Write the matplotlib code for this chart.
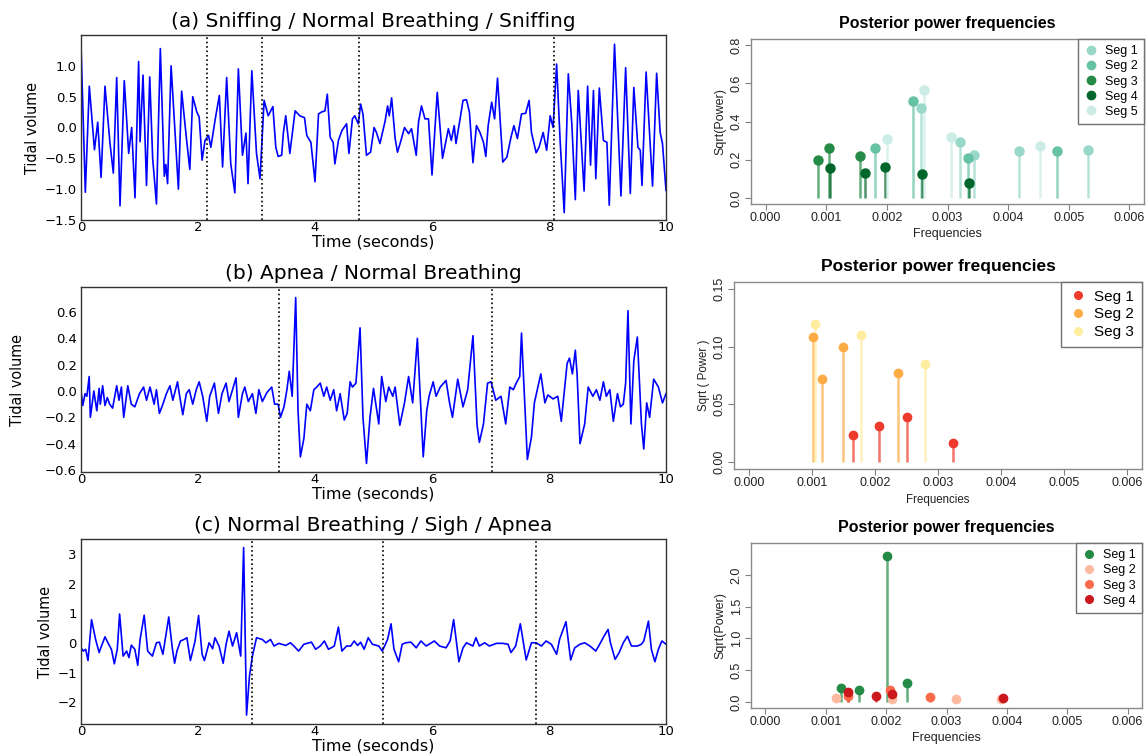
import matplotlib
matplotlib.use("Agg")
import matplotlib.pyplot as plt
from matplotlib.lines import Line2D

# ---------------- time-series data (knots) ----------------
ta = [0, 0.074, 0.142, 0.23, 0.286, 0.343, 0.41, 0.496, 0.553, 0.61, 0.667, 0.74, 0.815, 0.866, 0.923,
      0.985, 1.01, 1.06, 1.12, 1.175, 1.225, 1.29, 1.356, 1.424, 1.45, 1.48, 1.54, 1.665, 1.72, 1.806,
      1.86, 1.91, 1.98, 2.02, 2.07, 2.12, 2.18, 2.22, 2.29, 2.365, 2.42, 2.49, 2.56, 2.63, 2.69, 2.76,
      2.82, 2.855, 2.92, 3.0, 3.06, 3.13, 3.2, 3.28, 3.33, 3.37, 3.43, 3.46, 3.5, 3.57, 3.66, 3.74,
      3.82, 3.86, 3.93, 4.0, 4.06, 4.11, 4.17, 4.21, 4.26, 4.31, 4.34, 4.4, 4.46, 4.54, 4.58, 4.64,
      4.68, 4.74, 4.78, 4.82, 4.88, 4.95, 5.01, 5.05, 5.11, 5.2, 5.24, 5.27, 5.31, 5.37, 5.41, 5.47,
      5.53, 5.6, 5.65, 5.73, 5.77, 5.82, 5.88, 5.94, 6.0, 6.09, 6.18, 6.28, 6.33, 6.38, 6.41, 6.48,
      6.53, 6.59, 6.64, 6.7, 6.76, 6.82, 6.88, 6.92, 6.96, 7.02, 7.07, 7.12, 7.21, 7.28, 7.35, 7.4,
      7.46, 7.53, 7.6, 7.66, 7.7, 7.78, 7.83, 7.9, 7.96, 8.02, 8.07, 8.13, 8.19, 8.26, 8.33, 8.39,
      8.45, 8.5, 8.6, 8.66, 8.71, 8.76, 8.8, 8.86, 8.93, 8.99, 9.03, 9.12, 9.23, 9.31, 9.39, 9.45,
      9.52, 9.56, 9.59, 9.66, 9.77, 9.84, 9.9, 9.94, 10.0]
va = [1.35, -1.05, 0.67, -0.36, 0.086, -0.81, 0.67, -0.26, -0.74, 0.81, -1.27, 0.76, -0.42, 0.0, -1.14,
      1.07, -0.23, 0.85, -0.94, 0.82, -0.5, -1.24, 1.28, -0.79, -0.6, -0.91, 1.0, -1.0, 0.59, -0.21,
      -0.68, 0.5, 0.25, 0.17, -0.53, -0.21, -0.13, -0.32, 0.11, 0.52, -0.64, 0.81, -0.59, -1.06, 0.95, -0.45,
      -0.09, -0.91, 0.92, -0.42, -0.83, 0.44, 0.19, 0.34, -0.32, -0.47, -0.45, -0.08, 0.19, -0.42, 0.27, 0.19,
      0.16, -0.13, -0.24, -0.88, 0.22, 0.25, 0.27, 0.54, -0.16, -0.24, -0.59, -0.21, -0.05, 0.06, -0.42, 0.14,
      0.19, 0.06, 0.38, 0.22, -0.45, -0.4, 0.0, -0.08, -0.26, 0.11, 0.35, 0.19, 0.48, -0.18, -0.4, -0.21,
      0.0, -0.1, -0.02, -0.45, 0.09, 0.35, 0.14, 0.14, -0.77, 0.57, -0.5, -0.02, -0.21, 0.03, -0.26, 0.14,
      0.44, 0.45, 0.25, -0.57, 0.03, -0.08, -0.24, -0.47, 0.03, 0.41, 0.14, 0.8, -0.56, -0.48, -0.16, 0.03,
      -0.18, 0.22, 0.23, 0.44, -0.08, -0.41, -0.32, -0.08, -0.37, 0.19, 0.0, 1.03, -0.21, -1.38, 0.87, 0.06,
      -1.17, 0.6, -1.03, 0.67, -0.61, 0.6, -0.83, 0.64, -0.21, -0.24, -1.26, 1.35, -1.11, 0.97, -1.07, 0.65,
      -0.32, -0.37, -0.94, 0.9, -0.95, 0.88, -0.08, -0.26, -1.02]

tb = [0, 0.03, 0.07, 0.1, 0.14, 0.16, 0.22, 0.27, 0.31, 0.33, 0.37, 0.41, 0.45, 0.49, 0.54, 0.61, 0.65,
      0.69, 0.73, 0.8, 0.86, 0.92, 1.0, 1.07, 1.12, 1.18, 1.25, 1.29, 1.34, 1.4, 1.46, 1.52, 1.57, 1.65,
      1.68, 1.74, 1.8, 1.85, 1.91, 1.97, 2.02, 2.08, 2.15, 2.2, 2.28, 2.35, 2.41, 2.48, 2.53, 2.59, 2.65,
      2.69, 2.76, 2.8, 2.86, 2.93, 2.99, 3.04, 3.1, 3.18, 3.26, 3.31, 3.37, 3.41, 3.47, 3.52, 3.56, 3.61,
      3.67, 3.71, 3.75, 3.81, 3.86, 3.92, 3.98, 4.03, 4.09, 4.15, 4.2, 4.26, 4.32, 4.37, 4.43, 4.5, 4.55,
      4.6, 4.64, 4.7, 4.77, 4.82, 4.88, 4.94, 5.0, 5.09, 5.14, 5.21, 5.26, 5.33, 5.37, 5.45, 5.53, 5.6,
      5.67, 5.75, 5.85, 5.91, 5.95, 6.02, 6.07, 6.14, 6.24, 6.3, 6.35, 6.44, 6.53, 6.61, 6.7, 6.77, 6.81,
      6.88, 6.95, 7.01, 7.09, 7.18, 7.26, 7.33, 7.39, 7.44, 7.5, 7.53, 7.58, 7.63, 7.7, 7.75, 7.86, 7.93,
      7.98, 8.07, 8.15, 8.21, 8.31, 8.35, 8.4, 8.45, 8.48, 8.53, 8.61, 8.67, 8.75, 8.81, 8.87, 8.93, 8.98,
      9.04, 9.1, 9.17, 9.22, 9.27, 9.31, 9.35, 9.4, 9.45, 9.51, 9.58, 9.62, 9.67, 9.72, 9.79, 9.87, 9.94, 10.0]
vb = [0.0, -0.11, -0.02, -0.04, 0.11, -0.2, 0.0, -0.15, 0.02, -0.1, 0.04, -0.11, -0.05, -0.1, -0.13, 0.04, -0.07,
      0.03, -0.2, 0.04, -0.1, -0.12, -0.02, 0.03, -0.07, 0.03, -0.1, 0.01, -0.17, -0.1, -0.02, 0.04, -0.07, 0.07,
      -0.02, -0.18, -0.02, 0.01, -0.1, 0.01, 0.07, -0.04, -0.23, -0.04, 0.06, -0.17, -0.02, 0.06, -0.08, 0.01, 0.1,
      -0.2, -0.02, 0.03, -0.08, -0.02, -0.17, 0.01, -0.08, -0.01, 0.03, -0.1, -0.1, -0.2, -0.12, 0.01, 0.15, -0.04,
      0.71, -0.15, -0.5, -0.36, -0.1, -0.15, 0.01, 0.03, 0.06, -0.04, 0.03, -0.07, 0.01, -0.15, -0.02, -0.22, -0.17,
      0.07, 0.03, 0.06, 0.48, -0.2, -0.55, -0.2, 0.02, -0.25, 0.11, -0.08, 0.03, -0.04, 0.03, -0.26, -0.09, 0.11,
      -0.09, 0.4, -0.5, -0.15, -0.04, 0.07, -0.04, 0.03, 0.08, -0.09, -0.2, 0.09, -0.12, 0.01, 0.42, -0.26, -0.39,
      -0.25, 0.06, 0.07, -0.07, -0.04, -0.25, 0.03, 0.01, 0.06, 0.11, 0.44, -0.04, -0.52, -0.35, -0.09, 0.13, -0.09,
      -0.03, -0.06, -0.04, -0.23, 0.21, 0.25, 0.13, 0.31, 0.13, -0.4, -0.25, 0.03, -0.04, 0.01, -0.07, 0.07, -0.04,
      0.01, -0.23, -0.02, -0.12, -0.1, 0.06, 0.61, -0.25, 0.23, 0.41, -0.25, -0.44, -0.09, -0.2, 0.09, 0.03, -0.09, -0.02]

tc = [0, 0.04, 0.08, 0.12, 0.18, 0.22, 0.25, 0.31, 0.35, 0.41, 0.46, 0.52, 0.57, 0.62, 0.66, 0.72, 0.78,
      0.82, 0.86, 0.92, 0.97, 1.01, 1.08, 1.14, 1.22, 1.29, 1.34, 1.4, 1.5, 1.56, 1.6, 1.64, 1.7, 1.76,
      1.81, 1.87, 1.95, 2.01, 2.07, 2.11, 2.19, 2.25, 2.29, 2.36, 2.43, 2.48, 2.53, 2.59, 2.66, 2.73,
      2.78, 2.83, 2.88, 2.93, 3.0, 3.1, 3.16, 3.24, 3.3, 3.38, 3.5, 3.58, 3.64, 3.72, 3.81, 3.94, 4.01,
      4.09, 4.16, 4.23, 4.33, 4.4, 4.46, 4.54, 4.61, 4.67, 4.73, 4.78, 4.84, 4.91, 4.98, 5.09, 5.15,
      5.24, 5.3, 5.35, 5.43, 5.49, 5.55, 5.64, 5.73, 5.81, 5.9, 6.04, 6.13, 6.24, 6.31, 6.37, 6.46, 6.53,
      6.59, 6.7, 6.75, 6.81, 6.9, 6.98, 7.1, 7.21, 7.3, 7.35, 7.43, 7.51, 7.61, 7.7, 7.78, 7.87, 7.95,
      8.04, 8.13, 8.18, 8.29, 8.37, 8.44, 8.53, 8.61, 8.7, 8.8, 8.88, 8.94, 9.01, 9.05, 9.13, 9.2, 9.27,
      9.34, 9.41, 9.51, 9.58, 9.62, 9.7, 9.75, 9.81, 9.87, 9.93, 10.0]
vc = [-0.16, -0.27, -0.21, -0.59, 0.79, 0.4, 0.12, -0.32, -0.1, 0.21, 0.01, -0.21, -0.7, -0.21, 0.98, -0.44, -0.27,
      -0.49, -0.07, -0.21, -0.75, 0.12, 0.94, -0.27, -0.44, 0.01, 0.03, -0.38, 0.88, -0.16, -0.68, -0.27, 0.07, 0.12,
      0.18, -0.59, 0.07, 0.93, -0.38, -0.59, 0.01, -0.19, 0.18, -0.1, -0.68, -0.04, 0.4, -0.1, 0.35, -0.44,
      3.22, -2.43, -1.11, -0.44, 0.18, 0.12, 0.01, 0.12, -0.1, -0.01, -0.08, 0.01, -0.1, -0.27, -0.04, 0.03, -0.21,
      -0.1, 0.07, -0.21, -0.1, 0.54, -0.27, -0.1, -0.1, 0.07, -0.08, 0.03, -0.21, 0.18, -0.04, -0.1, -0.27,
      0.12, 0.65, -0.21, -0.63, -0.04, 0.01, 0.03, -0.16, 0.07, -0.1, 0.07, -0.1, -0.16, 0.07, 0.79, -0.63, -0.16,
      0.01, -0.1, 0.18, -0.1, 0.01, -0.1, -0.01, -0.01, -0.04, -0.32, -0.1, 0.65, -0.57, 0.01, 0.01, -0.1, 0.07,
      -0.04, -0.38, 0.12, 0.72, -0.57, -0.16, -0.04, 0.01, -0.1, -0.27, 0.01, 0.23, 0.46, 0.01, -0.55, -0.32, 0.01,
      0.23, -0.1, -0.1, -0.04, 0.07, 0.74, -0.21, -0.63, -0.21, 0.07, -0.04]

cp_a = [2.15, 3.1, 4.76, 8.09]
cp_b = [3.39, 7.03]
cp_c = [2.93, 5.17, 7.77]

titles_left = ["(a) Sniffing / Normal Breathing / Sniffing",
               "(b) Apnea / Normal Breathing",
               "(c) Normal Breathing / Sigh / Apnea"]

# ---------------- posterior power frequencies ----------------
# panel (a)
fa_seg1 = [0.00257, 0.00320, 0.00343, 0.00418, 0.00531]
pa_seg1 = [0.472, 0.295, 0.226, 0.246, 0.253]
fa_seg2 = [0.00181, 0.002435, 0.00333, 0.00480]
pa_seg2 = [0.259, 0.507, 0.210, 0.248]
fa_seg3 = [0.00086, 0.00104, 0.00155]
pa_seg3 = [0.200, 0.260, 0.219]
fa_seg4 = [0.00106, 0.00164, 0.00197, 0.00258, 0.003355]
pa_seg4 = [0.158, 0.132, 0.161, 0.127, 0.080]
fa_seg5 = [0.00200, 0.00261, 0.00306, 0.00453]
pa_seg5 = [0.307, 0.5625, 0.319, 0.273]

# panel (b)
fb_seg1 = [0.001644, 0.00207, 0.00250, 0.003234]
pb_seg1 = [0.0233, 0.0313, 0.0388, 0.0164]
fb_seg2 = [0.001021, 0.00116, 0.001484, 0.002367]
pb_seg2 = [0.1083, 0.0716, 0.0994, 0.0773]
fb_seg3 = [0.001048, 0.001782, 0.002798]
pb_seg3 = [0.1195, 0.1098, 0.0851]

# panel (c)
fc_seg1 = [0.001248, 0.001547, 0.002019, 0.00234]
pc_seg1 = [0.222, 0.19, 2.295, 0.30]
fc_seg2 = [0.00117, 0.0021, 0.00315, 0.00391]
pc_seg2 = [0.058, 0.05, 0.053, 0.045]
fc_seg3 = [0.00136, 0.00206, 0.00273]
pc_seg3 = [0.095, 0.195, 0.084]
fc_seg4 = [0.00137, 0.00183, 0.0021, 0.00394]
pc_seg4 = [0.158, 0.10, 0.12, 0.063]

seg_labels_a = ["Seg 1", "Seg 2", "Seg 3", "Seg 4", "Seg 5"]
seg_labels_b = ["Seg 1", "Seg 2", "Seg 3"]
seg_labels_c = ["Seg 1", "Seg 2", "Seg 3", "Seg 4"]

colors_a = ["#99d8c9", "#66c2a4", "#238b45", "#00662a", "#ccece6"]
colors_b = ["#ef3b2c", "#fdab45", "#ffeda0"]
colors_c = ["#238b45", "#fcbba1", "#fb6a4a", "#cb181d"]

# ---------------- figure ----------------
W, H = 1146, 754
fig = plt.figure(figsize=(W / 100, H / 100), dpi=100)


def box(l, t, r, b):
    return [l / W, 1 - b / H, (r - l) / W, (b - t) / H]


left_boxes = [box(81, 35, 666, 220), box(81, 287, 666, 472), box(81, 539, 666, 724)]
left_data = [(ta, va, cp_a, (-1.5, 1.5), [-1.5, -1.0, -0.5, 0.0, 0.5, 1.0], "%.1f", -0.07),
             (tb, vb, cp_b, (-0.615, 0.79), [-0.6, -0.4, -0.2, 0.0, 0.2, 0.4, 0.6], "%.1f", -0.095),
             (tc, vc, cp_c, (-2.73, 3.51), [-2, -1, 0, 1, 2, 3], "%d", -0.048)]

for bx, (t, v, cps, ylim, yt, fmt, ylx), ttl in zip(left_boxes, left_data, titles_left):
    ax = fig.add_axes(bx)
    ax.plot(t, v, color="#0000ff", lw=1.2)
    for c in cps:
        ax.axvline(c, color="black", ls=":", lw=1.2)
    ax.set_xlim(0, 10)
    ax.set_ylim(*ylim)
    ax.set_xticks([0, 2, 4, 6, 8, 10])
    ax.set_xticklabels(["0", "2", "4", "6", "8", "10"])
    ax.set_yticks(yt)
    ax.set_yticklabels([(fmt % y).replace("-", "\u2212") for y in yt])
    ax.tick_params(axis="y", length=0, labelsize=9.5, pad=3)
    ax.tick_params(axis="x", length=0, labelsize=9.5, pad=1)
    for s in ax.spines.values():
        s.set_color("#333333")
        s.set_linewidth(1.0)
    ax.set_title(ttl, fontsize=14.5, pad=6, family="DejaVu Sans")
    ax.set_xlabel("Time (seconds)", fontsize=11.5, labelpad=0)
    ax.set_ylabel("Tidal volume", fontsize=11.5, family="DejaVu Sans",
                  fontstretch="condensed")
    ax.yaxis.set_label_coords(ylx, 0.5)

right_boxes = [box(751, 39, 1144, 204), box(734, 282, 1142, 469), box(751, 543, 1142, 708)]
right_sets = [
    ([(fa_seg1, pa_seg1), (fa_seg2, pa_seg2), (fa_seg3, pa_seg3), (fa_seg4, pa_seg4), (fa_seg5, pa_seg5)],
     colors_a, seg_labels_a, 0.8, [0.0, 0.2, 0.4, 0.6, 0.8], "%.1f", "Sqrt(Power)", 9, 6.5, 11.5, 9),
    ([(fb_seg1, pb_seg1), (fb_seg2, pb_seg2), (fb_seg3, pb_seg3)],
     colors_b, seg_labels_b, 0.15, [0.0, 0.05, 0.10, 0.15], "%.2f", "Sqrt ( Power )", 11, 6, 12.5, 8.3),
    ([(fc_seg1, pc_seg1), (fc_seg2, pc_seg2), (fc_seg3, pc_seg3), (fc_seg4, pc_seg4)],
     colors_c, seg_labels_c, 2.41, [0.0, 0.5, 1.0, 1.5, 2.0], "%.1f", "Sqrt(Power)", 9, 6, 11.5, 9),
]

rfont = "Liberation Sans"
for bx, (segs, cols, labs, ytop, yt, yfmt, ylab, legfs, ms, tfs, lfs) in zip(right_boxes, right_sets):
    ax = fig.add_axes(bx)
    for (f, p), c in zip(segs, cols):
        ax.vlines(f, 0, p, colors=c, lw=1.8, alpha=0.7, zorder=2)
        ax.plot(f, p, "o", color=c, ms=ms, mec=c, zorder=3)
    pad = 0.04 * ytop
    ax.set_ylim(-pad, ytop + pad)
    ax.set_xlim(-0.00024, 0.00624)
    xt = [0.000, 0.001, 0.002, 0.003, 0.004, 0.005, 0.006]
    ax.set_xticks(xt)
    ax.set_xticklabels(["%.3f" % x for x in xt], family=rfont, fontsize=9)
    ax.set_yticks(yt)
    ax.set_yticklabels([yfmt % y for y in yt], family=rfont, fontsize=9,
                       rotation=90, va="center")
    ax.tick_params(direction="out", length=4, color="#808080", width=0.8, pad=2, labelcolor="#222222")
    for s in ax.spines.values():
        s.set_color("#8a8a8a")
        s.set_linewidth(1.0)
    ax.set_title("Posterior power frequencies", fontsize=tfs, fontweight="bold",
                 family=rfont, pad=8)
    ax.set_xlabel("Frequencies", fontsize=lfs, family=rfont, labelpad=3, color="#222222")
    ax.set_ylabel(ylab, fontsize=lfs, family=rfont, labelpad=3, color="#222222")
    handles = [Line2D([], [], marker="o", ls="", color=c, ms=ms - 0.5) for c in cols]
    leg = ax.legend(handles, labs, loc="upper right", fancybox=False, framealpha=1,
                    edgecolor="#707070", borderaxespad=0, handletextpad=0.5,
                    handlelength=1.2, labelspacing=0.25, borderpad=0.5,
                    prop={"family": rfont, "size": legfs})
    leg.get_frame().set_linewidth(1.0)

fig.savefig("out.png", dpi=100)
